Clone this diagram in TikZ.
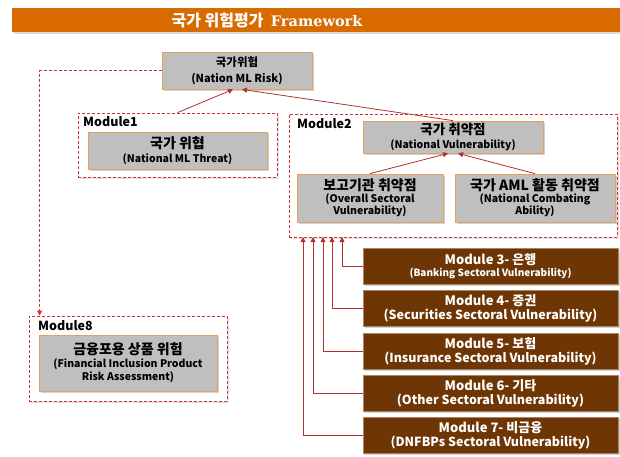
\documentclass[tikz,border=0pt]{standalone}
\usepackage{fontspec}
\setmainfont{Noto Sans CJK KR}
\newfontfamily\titleserif{DejaVu Serif}
\usetikzlibrary{arrows.meta, calc, shadows}
\definecolor{BarOrange}{RGB}{217,106,0}
\definecolor{BoxGray}{RGB}{191,191,191}
\definecolor{EdgeOrange}{RGB}{230,160,96}
\definecolor{ModBrown}{RGB}{110,54,4}
\definecolor{LineRed}{RGB}{178,48,48}
\definecolor{DashRed}{RGB}{210,50,50}
\newcommand{\kr}{\fontsize{14}{15}\selectfont}
\newcommand{\en}{\fontsize{10.5}{12}\selectfont}

\begin{document}
\begin{tikzpicture}[
    x=1pt, y=-1pt,
    graybox/.style={draw=EdgeOrange, fill=BoxGray, thick, align=center, inner sep=1pt,
        font=\bfseries, drop shadow={opacity=0.35, shadow xshift=1.5pt, shadow yshift=-1.5pt}},
    modbox/.style={draw=ModBrown!60!white, fill=ModBrown, text=white, align=center, inner sep=1pt,
        minimum width=255pt, minimum height=36pt, font=\bfseries,
        drop shadow={opacity=0.35, shadow xshift=1.5pt, shadow yshift=-1.5pt}},
    group/.style={draw=DashRed, densely dashed, thick, fill=white,
        drop shadow={opacity=0.2, shadow xshift=1.5pt, shadow yshift=-1.5pt}},
    grouplabel/.style={anchor=north west, inner sep=0pt, font=\bfseries\fontsize{12.5}{13}\selectfont},
    rise/.style={-{Triangle[length=5pt, width=5pt]}, LineRed, thick},
    feed/.style={-{Triangle[length=5pt, width=5pt]}, LineRed, thick},
]
\useasboundingbox (0,0) rectangle (620,456);

% ---- title bar ----
\node[fill=BarOrange, minimum width=608pt, minimum height=24pt, inner sep=0pt,
      drop shadow={opacity=0.3, shadow xshift=1.5pt, shadow yshift=-1.5pt}] (bar) at (316,20) {};
\node[text=white, font=\bfseries\fontsize{16}{16}\selectfont] (title) at (267,20)
    {국가 위험평가 \ {\titleserif\bfseries\fontsize{14.5}{16}\selectfont Framework}};

% ---- national risk ----
\node[graybox, minimum width=150pt, minimum height=37pt] (risk) at (237,70.5)
    {\fontsize{11.5}{13}\selectfont 국가위험\\[4pt]\fontsize{11}{13}\selectfont (Nation ML Risk)};

% ---- Module1 ----
\node[group, minimum width=199pt, minimum height=64pt] (mone) at (177.5,145) {};
\node[grouplabel] (monelab) at (83,116) {Module1};
\node[graybox, minimum width=179pt, minimum height=37pt] (threat) at (177.5,150.5)
    {\kr 국가 위협\\[2pt]\en (National ML Threat)};

% ---- Module2 ----
\node[group, minimum width=328pt, minimum height=123pt] (mtwo) at (453,175.5) {};
\node[grouplabel] (mtwolab) at (297,118) {Module2};
\node[graybox, minimum width=180pt, minimum height=32pt] (vul) at (453,137)
    {\fontsize{13.5}{14}\selectfont 국가 취약점\\[1.5pt]\en (National Vulnerability)};
\node[graybox, minimum width=146pt, minimum height=48pt] (sec) at (370,198)
    {\kr 보고기관 취약점\\\en (Overall Sectoral\\\en Vulnerability)};
\node[graybox, minimum width=160pt, minimum height=48pt] (aml) at (535,198)
    {\kr 국가 AML 활동 취약점\\\en (National Combating\\\en Ability)};

% ---- Module8 ----
\node[group, minimum width=198pt, minimum height=85pt] (meight) at (128,358.5) {};
\node[grouplabel] (meightlab) at (38,320) {Module8};
\node[graybox, minimum width=178pt, minimum height=56pt] (incl) at (128,363)
    {\kr 금융포용 상품 위험\\[1pt]\en (Financial Inclusion Product\\[1pt]\en Risk Assessment)};

% ---- sector modules ----
\node[modbox] (m3) at (490.5,266)
    {\fontsize{13}{14}\selectfont Module 3- 은행\\\fontsize{10}{12}\selectfont (Banking Sectoral Vulnerability)};
\node[modbox] (m4) at (490.5,308)
    {\fontsize{13}{14}\selectfont Module 4- 증권\\[2pt]\fontsize{12.5}{14}\selectfont (Securities Sectoral Vulnerability)};
\node[modbox] (m5) at (490.5,351)
    {\fontsize{13}{14}\selectfont Module 5- 보험\\[2pt]\fontsize{12.5}{14}\selectfont (Insurance Sectoral Vulnerability)};
\node[modbox] (m6) at (490.5,393)
    {\fontsize{13}{14}\selectfont Module 6- 기타\\[2pt]\fontsize{12.5}{14}\selectfont (Other Sectoral Vulnerability)};
\node[modbox] (m7) at (490.5,435)
    {\fontsize{13}{14}\selectfont Module 7- 비금융\\[2pt]\fontsize{12.5}{14}\selectfont (DNFBPs Sectoral Vulnerability)};

% ---- connectors ----
\draw[rise] (mone.north) -- ($(risk.south)+(-4,0)$);
\draw[rise] (vul.north) -- ($(risk.south)+(5,0)$);
\draw[rise] (sec.north) -- ($(vul.south)+(-5,0)$);
\draw[rise] (aml.north) -- ($(vul.south)+(5,0)$);

\foreach \m/\x in {3/342, 4/332, 5/323, 6/313, 7/303} {
    \coordinate (in\m) at (\x,237);
    \draw[feed] (m\m.west) -| (in\m);
}

\coordinate (ineight) at ($(meight.north west)+(11,0)$);
\draw[DashRed, densely dashed, thick, -{Triangle[length=5pt, width=5pt]}] (risk.west) -| (ineight);

\end{tikzpicture}
\end{document}
